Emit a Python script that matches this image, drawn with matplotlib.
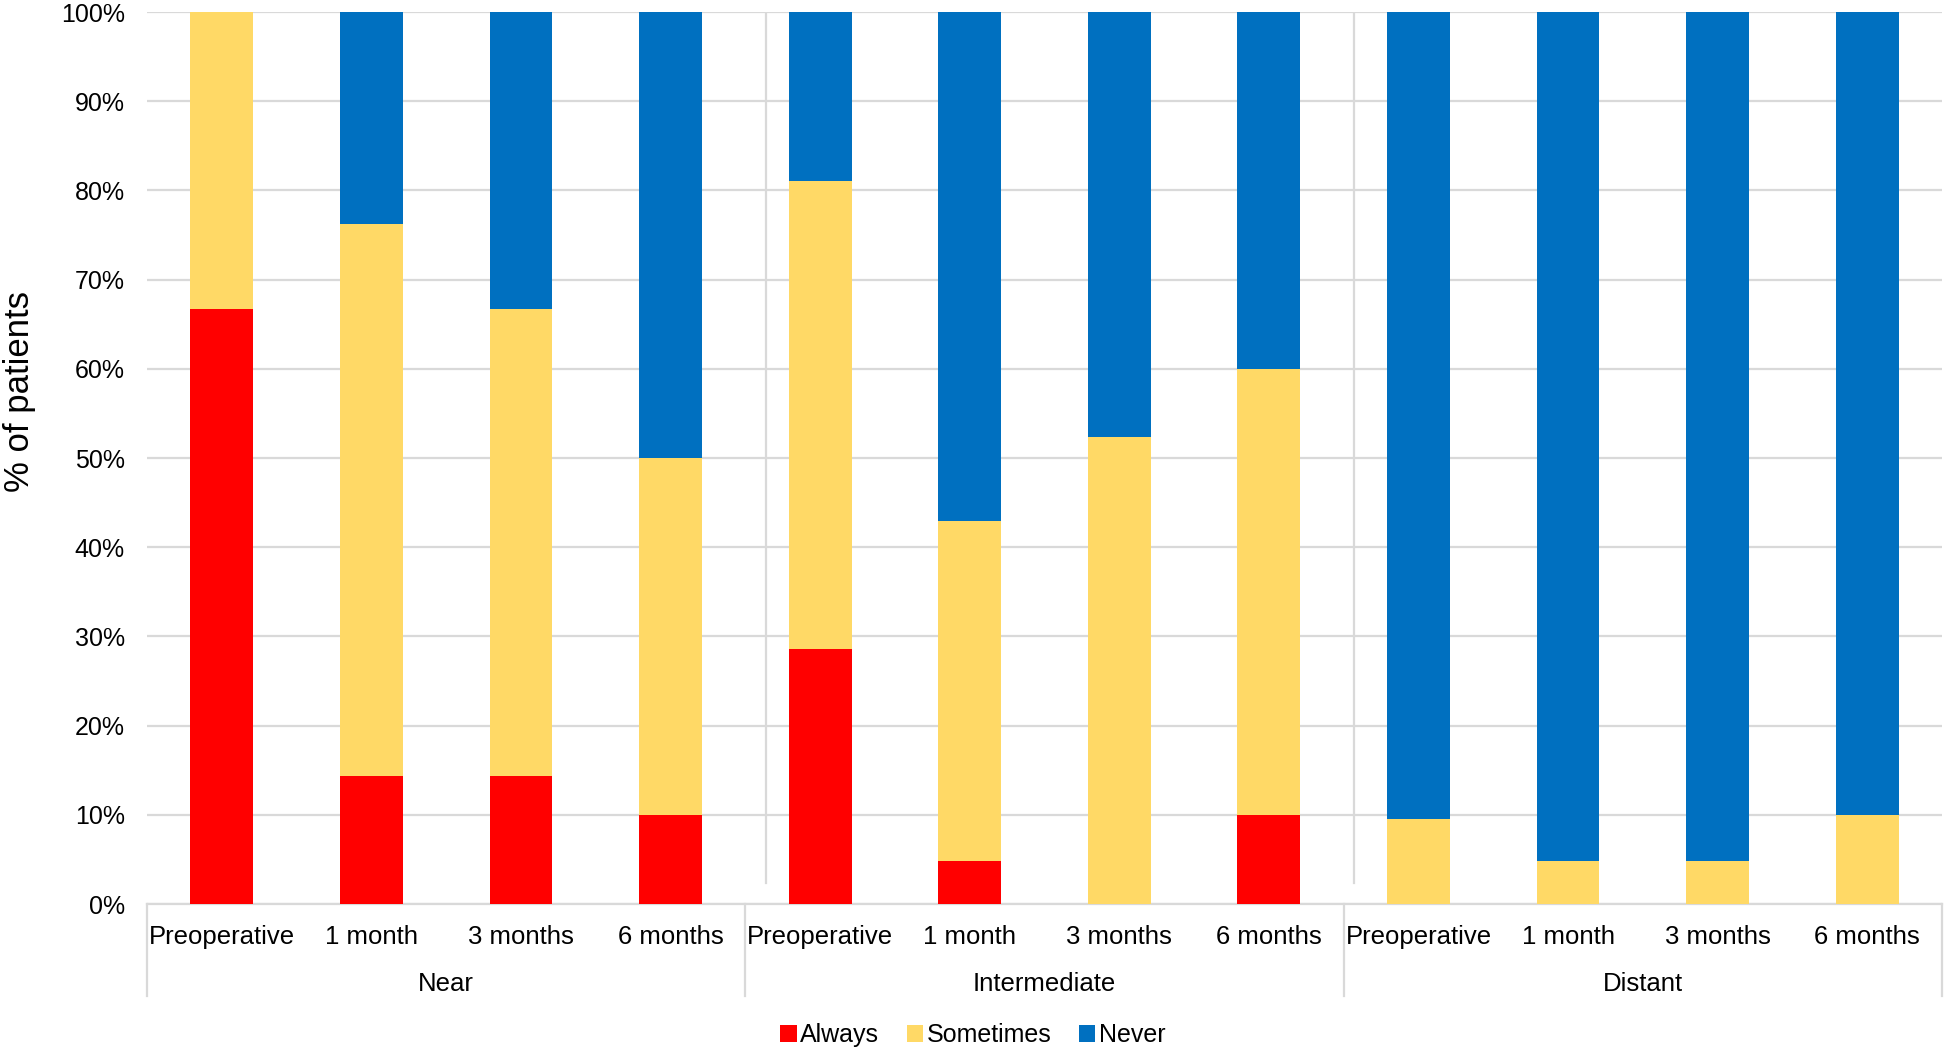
import numpy as np
import matplotlib
matplotlib.use('Agg')
import matplotlib.pyplot as plt
from matplotlib.patches import Patch
import matplotlib.transforms as mtransforms

plt.rcParams['font.family'] = ['Liberation Sans', 'DejaVu Sans']

# --- Data (percent of patients) ---
groups = ['Near', 'Intermediate', 'Distant']
timepoints = ['Preoperative', '1 month', '3 months', '6 months']

always = [66.7, 14.3, 14.3, 10.0,
          28.6, 4.8, 0.0, 10.0,
          0.0, 0.0, 0.0, 0.0]
sometimes = [33.3, 61.9, 52.4, 40.0,
             52.4, 38.1, 52.4, 50.0,
             9.5, 4.8, 4.8, 10.0]
never = [0.0, 23.8, 33.3, 50.0,
         19.0, 57.1, 47.6, 40.0,
         90.5, 95.2, 95.2, 90.0]

series_names = ['Always', 'Sometimes', 'Never']
series_colors = ['#FF0000', '#FFD966', '#0070C0']

# --- Figure ---
W, H = 1946, 1050
fig = plt.figure(figsize=(W / 100, H / 100), dpi=100)
ax = fig.add_axes([147 / W, (H - 904) / H, 1795 / W, 892 / H])

x = np.arange(len(always))
a = np.array(always)
s = np.array(sometimes)
n = np.array(never)
bw = 0.42
ax.bar(x, a, bw, color=series_colors[0], zorder=3)
ax.bar(x, s, bw, bottom=a, color=series_colors[1], zorder=3)
ax.bar(x, n, bw, bottom=a + s, color=series_colors[2], zorder=3)

ax.set_xlim(-0.5, len(x) - 0.5)
ax.set_ylim(0, 100)
ax.set_yticks(np.arange(0, 101, 10))
ax.set_yticklabels([f'{v}%' for v in range(0, 101, 10)], fontsize=18, color='#000000')
ax.yaxis.grid(True, color='#D9D9D9', linewidth=1.6, zorder=0)
ax.set_axisbelow(True)
ax.tick_params(axis='y', length=0, pad=16)

ax.set_xticks(x)
ax.set_xticklabels(timepoints * len(groups), fontsize=18.5)
ax.tick_params(axis='x', length=0, pad=15)

for side in ['top', 'right', 'left']:
    ax.spines[side].set_visible(False)
ax.spines['bottom'].set_color('#D9D9D9')
ax.spines['bottom'].set_linewidth(1.6)

# group labels and dividers below the axis
trans = mtransforms.blended_transform_factory(ax.transData, ax.transAxes)
ng = len(timepoints)
for gi, g in enumerate(groups):
    cx = gi * ng + (ng - 1) / 2
    ax.text(cx, -0.09, g, transform=trans, ha='center', va='center', fontsize=18.5)
for b in np.arange(0, len(groups) + 1) * ng - 0.5:
    ax.plot([b, b], [0, -0.103], transform=trans, color='#D9D9D9',
            linewidth=1.6, clip_on=False)

# thin vertical separators inside the plot
for b in [3.638, 7.568]:
    ax.plot([b, b], [2.35, 100], color='#D9D9D9', linewidth=1.6, zorder=1)

fig.text(3 / W, 1 - 391 / H, '% of patients', rotation=90, ha='left', va='center',
         fontsize=25)

handles = [Patch(facecolor=c, edgecolor='none') for c in series_colors]
fig.legend(handles, series_names, loc='center', bbox_to_anchor=(0.5, 1 - 1035 / H),
           ncol=3, frameon=False, fontsize=18, handlelength=0.65, handleheight=0.65,
           handletextpad=0.15, columnspacing=1.1)

fig.savefig('out.png', dpi=100)
